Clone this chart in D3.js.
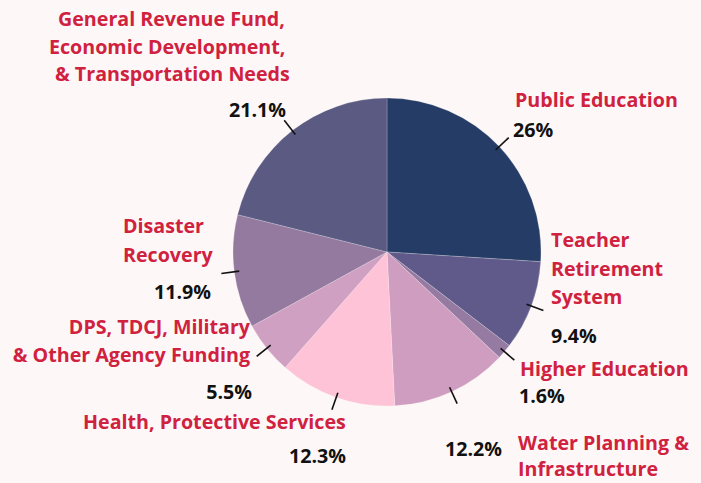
<!DOCTYPE html>
<html>
<head>
<meta charset="utf-8">
<script src="https://cdn.jsdelivr.net/npm/d3@7"></script>
<style>
  html, body { margin: 0; padding: 0; background: #fdf8f7; }
  svg { display: block; }
  text { font-family: "Open Sans", sans-serif; font-weight: 700; }
</style>
</head>
<body>
<svg id="chart" width="701" height="483"></svg>
<script>
// ---- data ----
const categories = [
  "Public Education",
  "Teacher Retirement System",
  "Higher Education",
  "Water Planning & Infrastructure",
  "Health, Protective Services",
  "DPS, TDCJ, Military & Other Agency Funding",
  "Disaster Recovery",
  "General Revenue Fund, Economic Development, & Transportation Needs"
];
const values = [26, 9.4, 1.6, 12.2, 12.3, 5.5, 11.9, 21.1];
const valueLabels = ["26%", "9.4%", "1.6%", "12.2%", "12.3%", "5.5%", "11.9%", "21.1%"];
const labelLines = [
  ["Public Education"],
  ["Teacher", "Retirement", "System"],
  ["Higher Education"],
  ["Water Planning &", "Infrastructure"],
  ["Health, Protective Services"],
  ["DPS, TDCJ, Military", "& Other Agency Funding"],
  ["Disaster", "Recovery"],
  ["General Revenue Fund,", "Economic Development,", "& Transportation Needs"]
];

// ---- styles / layout ----
const colors = ["#253d66", "#5f5a89", "#957ba2", "#cf9dc0", "#fec3d7", "#d0a0c3", "#957aa0", "#5b5a82"];
const labelRed = "#d0213f";
const cx = 387, cy = 252, R = 154;
// label layout: name x/y (baseline of first line), line gap, anchor; pct x/y anchor
const layout = [
  { nx: [515], ny: 106.7, gap: 28, na: "start", px: 513, py: 136.7, pa: "start" },
  { nx: [551, 551, 551], ny: 247.3, gap: 28.2, na: "start", px: 551, py: 343.3, pa: "start" },
  { nx: [520], ny: 376, gap: 28, na: "start", px: 519, py: 402.7, pa: "start" },
  { nx: [518, 518], ny: 450.2, gap: 25.8, na: "start", px: 445, py: 456, pa: "start" },
  { nx: [83], ny: 429.3, gap: 28, na: "start", px: 346, py: 463.3, pa: "end" },
  { nx: [250, 250], ny: 334.3, gap: 28, na: "end", px: 252, py: 399, pa: "end" },
  { nx: [123, 123], ny: 233.3, gap: 28.4, na: "start", px: 211, py: 299.3, pa: "end" },
  { nx: [58, 49, 55], ny: 26, gap: 27.6, na: "start", px: 286, py: 117, pa: "end" }
];

const svg = d3.select("#chart");
svg.append("rect").attr("width", 701).attr("height", 483).attr("fill", "#fdf8f7");

const data = categories.map((c, i) => ({ name: c, value: values[i], i }));
const pie = d3.pie().sort(null).value(d => d.value).startAngle(0).endAngle(2 * Math.PI);
const arcs = pie(data);
const arc = d3.arc().innerRadius(0).outerRadius(R);
const color = d3.scaleOrdinal().domain(categories).range(colors);

const g = svg.append("g").attr("transform", `translate(${cx},${cy})`);
g.selectAll("path.slice")
  .data(arcs)
  .enter().append("path")
  .attr("class", "slice")
  .attr("d", arc)
  .attr("fill", d => color(d.data.name))
  .attr("stroke", "#ffffff")
  .attr("stroke-opacity", 0.35)
  .attr("stroke-width", 0.6);

// tick lines at mid angle
const tickIn = d3.arc().innerRadius(149).outerRadius(149);
const tickOut = d3.arc().innerRadius(167).outerRadius(167);
g.selectAll("line.tick")
  .data(arcs)
  .enter().append("line")
  .attr("class", "tick")
  .attr("x1", d => tickIn.centroid(d)[0])
  .attr("y1", d => tickIn.centroid(d)[1])
  .attr("x2", d => tickOut.centroid(d)[0])
  .attr("y2", d => tickOut.centroid(d)[1])
  .attr("stroke", "#111")
  .attr("stroke-width", 1.6);

// font size fit: measure a reference label
const probe = svg.append("text").attr("font-size", 20).text("Public Education");
const w = probe.node().getComputedTextLength();
probe.remove();
const fs = Math.max(15, Math.min(22, 20 * 163 / w));

const labels = svg.append("g");
arcs.forEach((d, i) => {
  const L = layout[i];
  labelLines[i].forEach((line, k) => {
    labels.append("text")
      .attr("x", L.nx[k])
      .attr("y", L.ny + k * L.gap)
      .attr("text-anchor", L.na)
      .attr("font-size", fs)
      .attr("fill", labelRed)
      .text(line);
  });
  labels.append("text")
    .attr("x", L.px)
    .attr("y", L.py)
    .attr("text-anchor", L.pa)
    .attr("font-size", fs)
    .attr("font-weight", 800)
    .attr("fill", "#111")
    .text(valueLabels[i]);
});
</script>
</body>
</html>
